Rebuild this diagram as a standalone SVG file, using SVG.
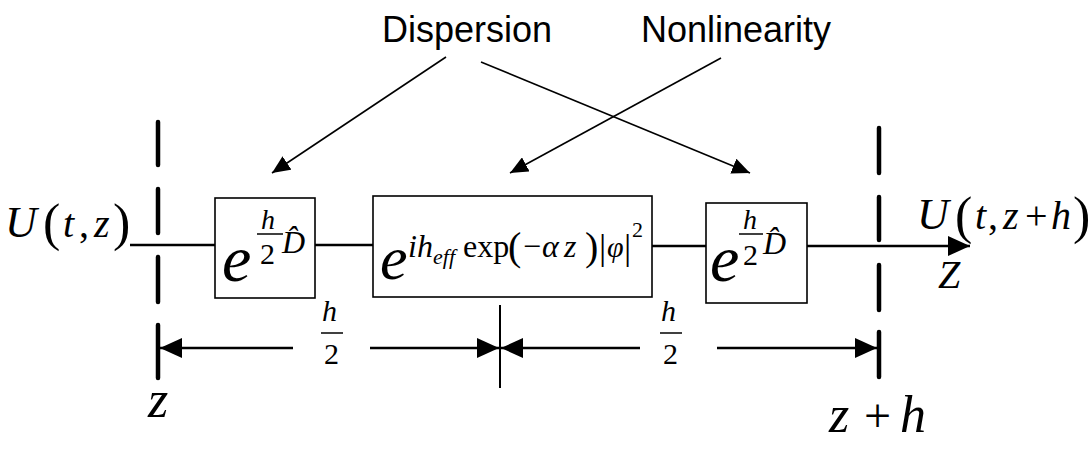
<svg xmlns="http://www.w3.org/2000/svg" width="1090" height="449" viewBox="0 0 1090 449">
<style>
.lbl{font-family:"Liberation Sans",Arial,sans-serif;font-size:36px;fill:#000}
.m{font-family:"Liberation Serif","Times New Roman",serif;fill:#000}
.i{font-style:italic}
.box{fill:#fff;stroke:#000;stroke-width:1.6}
.main{stroke:#000;stroke-width:2.6;fill:none}
.thin{stroke:#000;stroke-width:1.6;fill:none}
.dash{stroke:#000;stroke-width:4.5;stroke-linecap:round}
.dim{stroke:#000;stroke-width:2.4;fill:none}
</style>
<defs>
<marker id="ah" markerUnits="userSpaceOnUse" viewBox="0 0 18 16" refX="18" refY="8" markerWidth="18" markerHeight="16" orient="auto">
<path d="M0,0 L18,8 L0,16 z" fill="#000"/>
</marker>
<marker id="ab" markerUnits="userSpaceOnUse" viewBox="0 0 22 20" refX="22" refY="10" markerWidth="22" markerHeight="20" orient="auto">
<path d="M0,0 L22,10 L0,20 z" fill="#000"/>
</marker>
</defs>

<g id="labels">
<text class="lbl" x="382" y="42">Dispersion</text>
<text class="lbl" x="641" y="42">Nonlinearity</text>
</g>

<g id="dashed-lines">
<line class="dash" x1="158" y1="122" x2="158" y2="165"/>
<line class="dash" x1="158" y1="189" x2="158" y2="233"/>
<line class="dash" x1="158" y1="257" x2="158" y2="302"/>
<line class="dash" x1="158" y1="325" x2="158" y2="378"/>
<line class="dash" x1="879" y1="128" x2="879" y2="173"/>
<line class="dash" x1="879" y1="197" x2="879" y2="240"/>
<line class="dash" x1="879" y1="265" x2="879" y2="310"/>
<line class="dash" x1="879" y1="332" x2="879" y2="377"/>
</g>

<g id="connectors">
<line class="main" x1="130" y1="245" x2="215" y2="245"/>
<line class="main" x1="315" y1="245" x2="373" y2="245"/>
<line class="main" x1="652" y1="246" x2="706" y2="246"/>
<line class="main" x1="807" y1="246" x2="970" y2="246" marker-end="url(#ab)"/>
<line class="thin" x1="446" y1="57" x2="272" y2="173" marker-end="url(#ah)"/>
<line class="thin" x1="481" y1="62" x2="750" y2="173" marker-end="url(#ah)"/>
<line class="thin" x1="721" y1="58" x2="510" y2="173" marker-end="url(#ah)"/>
<line class="dim" x1="293" y1="348" x2="160" y2="348" marker-end="url(#ab)"/>
<line class="dim" x1="370" y1="348" x2="499" y2="348" marker-end="url(#ab)"/>
<line class="dim" x1="640" y1="348" x2="501" y2="348" marker-end="url(#ab)"/>
<line class="dim" x1="717" y1="348" x2="877" y2="348" marker-end="url(#ab)"/>
<line stroke="#000" stroke-width="2" x1="500" y1="305" x2="500" y2="388"/>
</g>

<g id="input">
<text class="m i" x="5" y="237" font-size="44">U</text>
<text class="m" x="43" y="240" font-size="52">(</text>
<text class="m i" x="63" y="237" font-size="40">t</text>
<text class="m" x="79" y="237" font-size="40">,</text>
<text class="m i" x="94" y="237" font-size="40">z</text>
<text class="m" x="113" y="240" font-size="52">)</text>
</g>

<g id="box1">
<rect class="box" x="215" y="198" width="100" height="100"/>
<text class="m i" x="222" y="281" font-size="66">e</text>
<text class="m" x="260" y="264" font-size="30">2</text>
<text class="m i" x="261" y="229" font-size="28">h</text>
<line stroke="#000" stroke-width="1.5" x1="257" y1="234" x2="283" y2="234"/>
<text class="m i" x="282" y="253" font-size="32">D̂</text>
</g>

<g id="box2">
<rect class="box" x="373" y="196" width="279" height="101"/>
<text class="m i" x="380" y="279" font-size="62">e</text>
<text class="m i" x="408" y="257" font-size="32">ih</text>
<text class="m i" x="433" y="264" font-size="22">eff</text>
<text class="m" x="463" y="257" font-size="32">exp</text>
<text class="m" x="508" y="260" font-size="40">(</text>
<text class="m" x="523" y="257" font-size="32">−</text>
<text class="m i" x="542" y="257" font-size="32">α</text>
<text class="m i" x="564" y="257" font-size="32">z</text>
<text class="m" x="585" y="260" font-size="40">)</text>
<text class="m" x="599" y="259" font-size="36">|</text>
<text class="m i" x="607" y="257" font-size="30">φ</text>
<text class="m" x="624" y="259" font-size="36">|</text>
<text class="m" x="632" y="237" font-size="22">2</text>
</g>

<g id="box3">
<rect class="box" x="706" y="203" width="101" height="100"/>
<text class="m i" x="710" y="281" font-size="66">e</text>
<text class="m" x="743" y="265" font-size="30">2</text>
<text class="m i" x="743" y="229" font-size="28">h</text>
<line stroke="#000" stroke-width="1.5" x1="739" y1="234" x2="763" y2="234"/>
<text class="m i" x="763" y="254" font-size="32">D̂</text>
</g>

<g id="output">
<text class="m i" x="917" y="229" font-size="44">U</text>
<text class="m" x="955" y="233" font-size="52">(</text>
<text class="m i" x="975" y="229" font-size="40">t</text>
<text class="m" x="988" y="229" font-size="40">,</text>
<text class="m i" x="1003" y="229" font-size="40">z</text>
<text class="m" x="1025" y="229" font-size="40">+</text>
<text class="m i" x="1051" y="229" font-size="40">h</text>
<text class="m" x="1073" y="233" font-size="52">)</text>
<text class="m i" x="938" y="288" font-size="40">Z</text>
</g>

<g id="dimensions">
<text class="m i" x="322" y="321" font-size="30">h</text>
<line stroke="#000" stroke-width="1.5" x1="321" y1="333" x2="343" y2="333"/>
<text class="m" x="324" y="364" font-size="30">2</text>
<text class="m i" x="661" y="321" font-size="30">h</text>
<line stroke="#000" stroke-width="1.5" x1="660" y1="333" x2="682" y2="333"/>
<text class="m" x="663" y="364" font-size="30">2</text>
<text class="m i" x="148" y="417" font-size="52">z</text>
<text class="m i" x="829" y="432" font-size="52">z</text>
<text class="m" x="864" y="432" font-size="48">+</text>
<text class="m i" x="900" y="432" font-size="52">h</text>
</g>
</svg>
